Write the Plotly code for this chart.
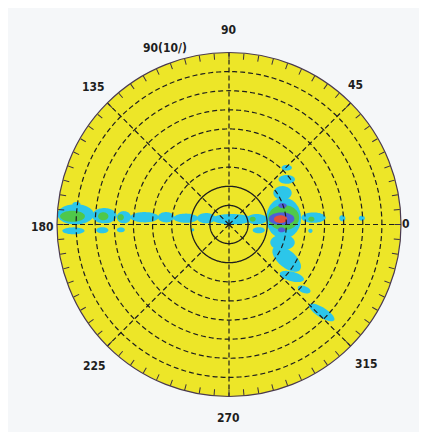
import numpy as np
import plotly.graph_objects as go

# ---- data ----
ring_r = [10, 20, 30, 40, 50, 60, 70, 80]
ring_solid = [True, True, False, False, False, False, False, False]
spoke_theta = [0, 45, 90, 135, 180, 225, 270, 315]
r_max = 90

angle_labels = ["0", "45", "90", "135", "180", "225", "270", "315"]
radial_label = "90(10/)"

# blobs: east/north position (in radial units), semi-axes, tilt (deg), level (1 cyan, 2 green, 3 blue, 4 red)
blob_x = [-80.3, -65.2, -55.0, -44.2, -32.9, -22.6, -11.9, 1.6, 14.6,
          -79.8, -81.4, -66.3, -56.6, -19.0, 15.6, 42.6,
          44.2, 59.3, 69.5,
          28.6, 30.2, 30.2, 28.0,
          28.0, 30.2, 32.9, 39.3, 48.5,
          -81.9, -65.8, -56.6, 12.4, 43.1, 28.6,
          27.5, 28.0, 27.5,
          27.0]
blob_y = [5.3, 4.6, 3.8, 3.8, 3.8, 3.3, 3.3, 2.8, 2.8,
          10.7, -3.3, -3.0, -2.8, -2.8, -3.0, -3.3,
          3.6, 3.3, 3.3,
          3.3, 29.7, 23.6, 16.5,
          -9.4, -18.0, -27.2, -34.0, -46.0,
          4.3, 4.3, 3.8, 2.8, 2.8, 3.6,
          3.0, 9.9, -2.8,
          2.8]
blob_a = [9.5, 6.4, 3.7, 7.4, 4.3, 6.4, 4.8, 10.6, 5.3,
          2.1, 5.8, 3.2, 2.1, 0.8, 3.2, 1.1,
          6.4, 1.6, 1.6,
          9.1, 2.7, 4.3, 4.8,
          6.4, 9.0, 6.5, 3.5, 7.7,
          6.5, 2.7, 1.6, 1.6, 1.6, 8.1,
          6.7, 2.2, 1.9,
          3.5]
blob_b = [5.3, 4.0, 3.2, 2.7, 2.7, 2.4, 2.7, 2.7, 2.7,
          1.1, 1.8, 1.6, 1.3, 0.8, 1.6, 1.1,
          2.7, 1.6, 1.3,
          10.7, 1.5, 2.3, 3.6,
          4.1, 4.5, 2.5, 1.8, 2.6,
          2.9, 2.1, 1.6, 1.3, 1.3, 6.6,
          3.3, 1.3, 1.3,
          2.0]
blob_tilt = [0, 0, 0, 0, 0, 0, 0, 0, 0,
             0, 0, 0, 0, 0, 0, 0,
             0, 0, 0,
             0, 0, 0, 0,
             0, -40, -15, -20, -32,
             0, 0, 0, 0, 0, 0,
             0, 0, 0,
             0]
blob_level = [1, 1, 1, 1, 1, 1, 1, 1, 1,
              1, 1, 1, 1, 1, 1, 1,
              1, 1, 1,
              1, 1, 1, 1,
              1, 1, 1, 1, 1,
              2, 2, 2, 2, 2, 2,
              3, 3, 3,
              4]

level_colors = {1: "#2cc6ea", 2: "#4fc84a", 3: "#4f5fd6", 4: "#e4503c"}
yellow = "#ede628"
ink = "#1e1e1e"

# ---- figure ----
fig = go.Figure()

t = np.linspace(0, 2 * np.pi, 72)
order = sorted(range(len(blob_x)), key=lambda i: blob_level[i])
for i in order:
    phi = np.radians(blob_tilt[i])
    X = blob_x[i] + blob_a[i] * np.cos(t) * np.cos(phi) - blob_b[i] * np.sin(t) * np.sin(phi)
    Y = blob_y[i] + blob_a[i] * np.cos(t) * np.sin(phi) + blob_b[i] * np.sin(t) * np.cos(phi)
    R = np.minimum(np.hypot(X, Y), r_max)
    TH = np.degrees(np.arctan2(Y, X))
    fig.add_trace(go.Scatterpolar(
        r=R, theta=TH, mode="lines", fill="toself",
        fillcolor=level_colors[blob_level[i]],
        line=dict(width=0, color=level_colors[blob_level[i]]),
        hoverinfo="skip", showlegend=False))

circ = np.linspace(0, 360, 361)
for rr, solid in zip(ring_r, ring_solid):
    fig.add_trace(go.Scatterpolar(
        r=[rr] * len(circ), theta=circ, mode="lines",
        line=dict(color=ink, width=1.3 if solid else 1.2, dash="solid" if solid else "5px,3px"),
        hoverinfo="skip", showlegend=False))

for th in spoke_theta:
    fig.add_trace(go.Scatterpolar(
        r=[0, r_max], theta=[th, th], mode="lines",
        line=dict(color=ink, width=1.2, dash="5px,3px"),
        hoverinfo="skip", showlegend=False))

# page body has an 8px margin: the figure is drawn 8px in from the window's corner
OFF = 8
W, H = 427 - OFF, 432 - OFF
cx, cy, rad = 229 - OFF, 224.5 - OFF, 172
fig.update_layout(
    width=W, height=H,
    margin=dict(l=0, r=0, t=0, b=0),
    paper_bgcolor="#f5f7f9",
    polar=dict(
        domain=dict(x=[(cx - rad) / W, (cx + rad) / W],
                    y=[1 - (cy + rad) / H, 1 - (cy - rad) / H]),
        bgcolor=yellow,
        radialaxis=dict(range=[0, r_max], visible=False),
        angularaxis=dict(
            tickmode="linear", tick0=0, dtick=5,
            ticks="inside", ticklen=6, tickwidth=1, tickcolor="#3a3040",
            showticklabels=False, showgrid=False,
            showline=True, linecolor="#4a3a50", linewidth=1.2,
            direction="counterclockwise", rotation=0),
    ),
)

label_px = [(406, 224), (355, 85), (228, 30), (93, 87), (42, 227),
            (94, 366), (229, 418), (366, 364)]
for txt, (px, py) in zip(angle_labels, label_px):
    fig.add_annotation(x=(px - OFF) / W, y=1 - (py - OFF) / H, xref="paper", yref="paper",
                       xanchor="center", yanchor="middle",
                       text="<b>" + txt + "</b>", showarrow=False,
                       font=dict(family="DejaVu Sans Condensed", size=12, color=ink))
fig.add_annotation(x=(165 - OFF) / W, y=1 - (48 - OFF) / H, xref="paper", yref="paper",
                   xanchor="center", yanchor="middle",
                   text="<b>" + radial_label + "</b>", showarrow=False,
                   font=dict(family="DejaVu Sans Condensed", size=12, color=ink))

fig.write_html("out.html")
